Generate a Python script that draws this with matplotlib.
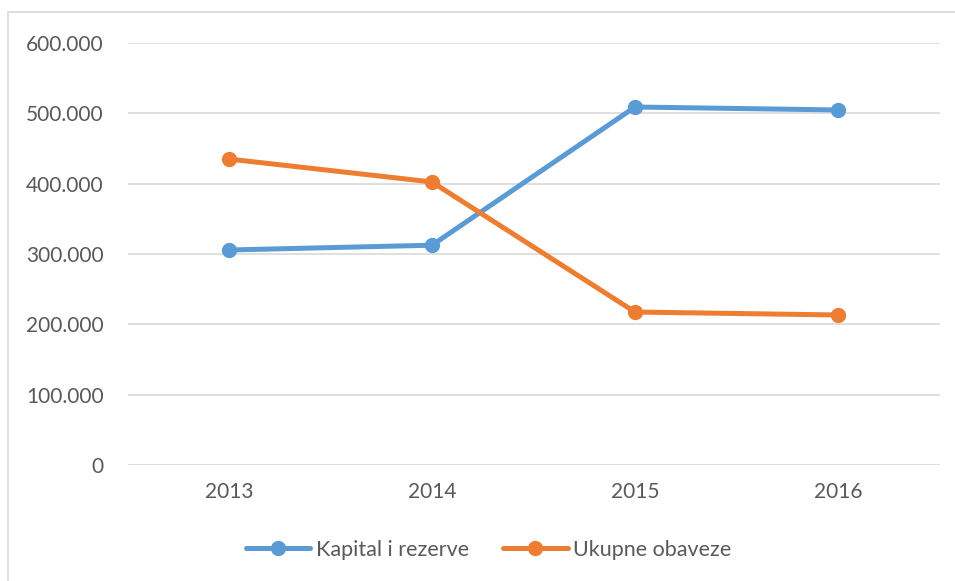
import matplotlib
matplotlib.use("Agg")
import matplotlib.pyplot as plt
from matplotlib.patches import Rectangle
from matplotlib.ticker import FuncFormatter

years = ["2013", "2014", "2015", "2016"]
kapital = [305700, 312500, 509000, 504800]
obaveze = [435000, 402400, 217500, 213300]
series_names = ["Kapital i rezerve", "Ukupne obaveze"]

plt.rcParams['font.family'] = ['Lato', 'DejaVu Sans']

fig = plt.figure(figsize=(9.55, 5.81), dpi=100)
ax = fig.add_axes([127.5/955, 1 - 465/581, (939.5-127.5)/955, (465-43)/581])

x = range(len(years))
ax.plot(x, kapital, color='#5B9BD5', lw=3.6, marker='o', ms=10, label=series_names[0],
        solid_capstyle='round', zorder=3)
ax.plot(x, obaveze, color='#ED7D31', lw=3.6, marker='o', ms=10, label=series_names[1],
        solid_capstyle='round', zorder=3)

ax.set_xlim(-0.5, 3.5)
ax.set_ylim(0, 600000)
ax.set_yticks(range(0, 600001, 100000))
ax.yaxis.set_major_formatter(FuncFormatter(lambda v, p: "0" if v == 0 else f"{int(v):,}".replace(",", ".")))
ax.set_xticks(list(x))
ax.set_xticklabels(years)
ax.grid(axis='y', color='#D9D9D9', lw=1.2)
ax.set_axisbelow(True)
for s in ax.spines.values():
    s.set_visible(False)
ax.tick_params(axis='both', length=0, labelsize=15, labelcolor='#595959')
ax.tick_params(axis='y', pad=17)
ax.tick_params(axis='x', pad=12)

leg = fig.legend(loc='center', bbox_to_anchor=(0.5 + 11/955, 1 - 550/581), ncol=2, frameon=False,
                 fontsize=15.5, handlelength=3.0, columnspacing=1.6, handletextpad=0.25)
for t in leg.get_texts():
    t.set_color('#595959')

fig.patches.append(Rectangle((8/955, -0.01), 1.0, 1 - 12/581 + 0.01, transform=fig.transFigure,
                             fill=False, edgecolor='#D9D9D9', lw=1.2))

fig.savefig("out.png", dpi=100)
